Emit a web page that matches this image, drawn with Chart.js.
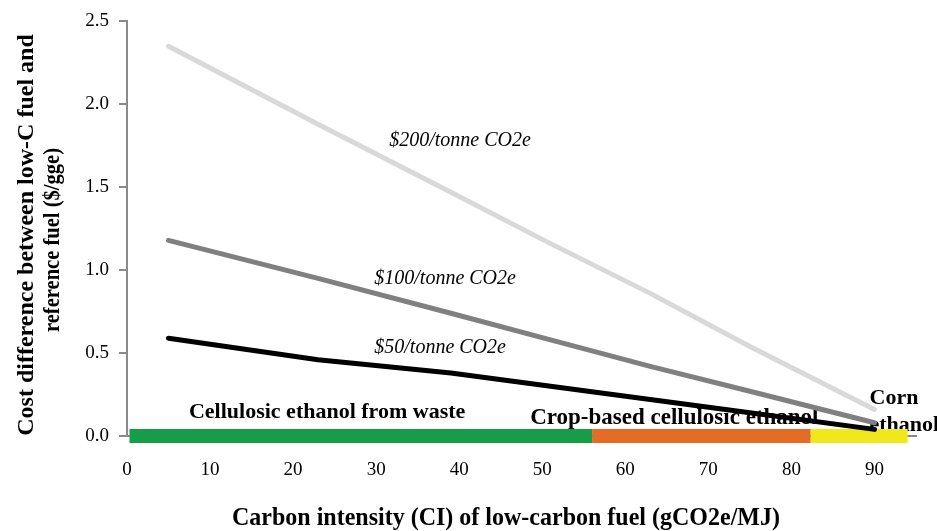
<!DOCTYPE html>
<html>
<head>
<meta charset="utf-8">
<script src="https://cdn.jsdelivr.net/npm/chart.js@4/dist/chart.umd.min.js"></script>
<style>
  html, body { margin: 0; padding: 0; background: #ffffff; }
  #c { display: block; }
</style>
</head>
<body>
<canvas id="c" width="937" height="531"></canvas>
<script>
// ---- Data ----
const ciValues   = [5, 23, 39, 51, 63, 75, 90];            // gCO2e/MJ
const cost200    = [2.35, 1.88, 1.47, 1.16, 0.86, 0.54, 0.16];
const cost100    = [1.18, 0.95, 0.74, 0.58, 0.42, 0.27, 0.08];
const cost50     = [0.59, 0.46, 0.38, 0.30, 0.22, 0.14, 0.04];
const seriesNames = ['$200/tonne CO2e', '$100/tonne CO2e', '$50/tonne CO2e'];

const rangeNames = ['Cellulosic ethanol from waste', 'Crop-based cellulosic ethanol', 'Corn ethanol'];
const rangeStart = [0.3, 56, 82.3];
const rangeEnd   = [56, 82.3, 94];

const yTicks = [0, 0.5, 1.0, 1.5, 2.0, 2.5];
const xTicks = [0, 10, 20, 30, 40, 50, 60, 70, 80, 90];

const xTitle = 'Carbon intensity (CI) of low-carbon fuel (gCO2e/MJ)';
const yTitleLines = ['Cost difference between low-C fuel and', 'reference fuel ($/gge)'];

// ---- Build datasets ----
const toPts = (ys) => ciValues.map((x, i) => ({ x: x, y: ys[i] }));
const lineColors = ['#d9d9d9', '#808080', '#000000'];
const rangeColors = ['#179c48', '#e46c26', '#f0e81b'];

const datasets = [];
rangeNames.forEach((name, i) => {
  datasets.push({
    label: name,
    data: [{ x: rangeStart[i], y: 0 }, { x: rangeEnd[i], y: 0 }],
    borderColor: rangeColors[i],
    backgroundColor: rangeColors[i],
    borderWidth: 14,
    borderCapStyle: 'butt',
    pointRadius: 0,
    clip: false,
    order: 1
  });
});
[cost200, cost100, cost50].forEach((ys, i) => {
  datasets.push({
    label: seriesNames[i],
    data: toPts(ys),
    borderColor: lineColors[i],
    backgroundColor: lineColors[i],
    borderWidth: 5,
    borderCapStyle: 'round',
    borderJoinStyle: 'round',
    pointRadius: 0,
    tension: 0,
    clip: false,
    order: 0
  });
});

// ---- Text annotations placed in data units ----
const SERIF = '"Liberation Serif", "Times New Roman", serif';
const annotations = [
  { text: seriesNames[0], x: 40.1, y: 1.78, font: 'italic 20px ' + SERIF, align: 'center', maxW: 147 },
  { text: seriesNames[1], x: 38.3, y: 0.95, font: 'italic 20px ' + SERIF, align: 'center', maxW: 145 },
  { text: seriesNames[2], x: 37.7, y: 0.53, font: 'italic 20px ' + SERIF, align: 'center', maxW: 135 },
  { text: rangeNames[0], x: 24.1, y: 0.144, font: 'bold 22px ' + SERIF, align: 'center', maxW: 286 },
  { text: rangeNames[1], x: 65.9, y: 0.108, font: 'bold 23px ' + SERIF, align: 'center', maxW: 291 },
  { text: 'Corn', x: 89.4, y: 0.228, font: 'bold 22px ' + SERIF, align: 'left', maxW: 80 },
  { text: 'ethanol', x: 89.4, y: 0.066, font: 'bold 22px ' + SERIF, align: 'left', maxW: 80 }
];

const textPlugin = {
  id: 'textPlugin',
  beforeDatasetsDraw(chart) {
    const { ctx, scales: { x, y } } = chart;
    ctx.save();
    ctx.fillStyle = '#000';
    ctx.textBaseline = 'middle';
    annotations.forEach(a => {
      ctx.font = a.font;
      ctx.textAlign = a.align;
      ctx.fillText(a.text, x.getPixelForValue(a.x), y.getPixelForValue(a.y), a.maxW);
    });
    ctx.restore();
  },
  afterDraw(chart) {
    const { ctx } = chart;
    ctx.save();
    ctx.fillStyle = '#000';
    ctx.textBaseline = 'middle';
    ctx.textAlign = 'center';
    ctx.font = 'bold 25px ' + SERIF;
    ctx.fillText(xTitle, 506, 519, 548);
    ctx.font = 'bold 24px ' + SERIF;
    ctx.translate(27, 235);
    ctx.rotate(-Math.PI / 2);
    ctx.fillText(yTitleLines[0], 0, 0, 412);
    ctx.fillText(yTitleLines[1], -5, 26, 184);
    ctx.restore();
  }
};

new Chart(document.getElementById('c'), {
  type: 'line',
  data: { datasets },
  options: {
    responsive: false,
    animation: false,
    devicePixelRatio: 1,
    layout: { padding: { top: 19, right: 21, left: 0, bottom: 0 } },
    plugins: { legend: { display: false }, tooltip: { enabled: false } },
    scales: {
      x: {
        type: 'linear',
        min: 0, max: 95,
        afterFit(s) { s.height = 95; },
        afterBuildTicks(s) { s.ticks = xTicks.map(v => ({ value: v })); },
        grid: { display: false, drawTicks: false },
        border: { display: true, color: '#8a8a8a', width: 2 },
        ticks: { padding: 23, color: '#000', font: { family: SERIF, size: 19 },
                 callback: v => String(v) }
      },
      y: {
        type: 'linear',
        min: 0, max: 2.5,
        afterFit(s) { s.width = 127; },
        afterBuildTicks(s) { s.ticks = yTicks.map(v => ({ value: v })); },
        grid: { display: true, drawOnChartArea: false, drawTicks: true, tickLength: 8,
                color: '#8a8a8a', lineWidth: 2 },
        border: { display: true, color: '#8a8a8a', width: 2 },
        ticks: { padding: 10, color: '#000', font: { family: SERIF, size: 19 },
                 callback: v => Number(v).toFixed(1) }
      }
    }
  },
  plugins: [textPlugin]
});
</script>
</body>
</html>
